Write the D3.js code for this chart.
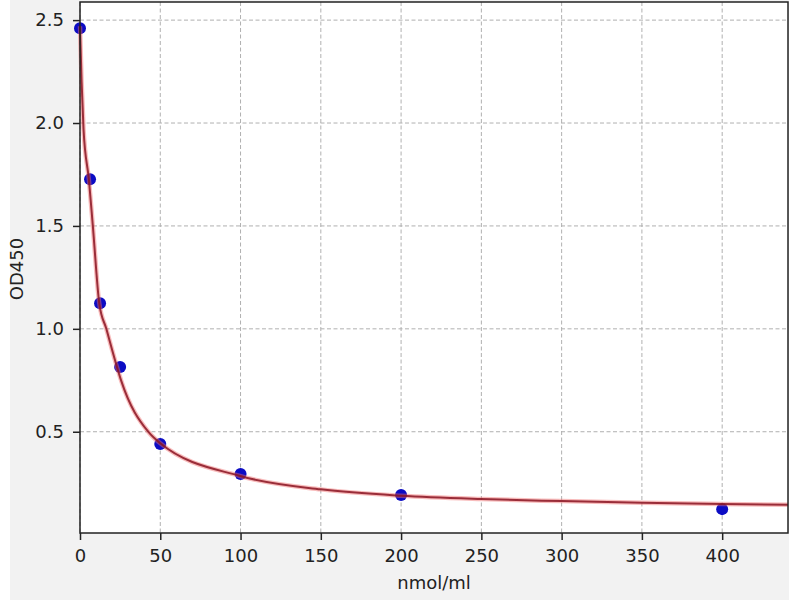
<!DOCTYPE html>
<html>
<head>
<meta charset="utf-8">
<script src="https://cdn.jsdelivr.net/npm/d3@7"></script>
<style>
  body { margin: 0; background: #fff; }
  text { font-family: "DejaVu Sans", sans-serif; fill: #222; }
</style>
</head>
<body>
<div id="canvas"></div>
<script>
// standard points
const conc = [0, 6.25, 12.5, 25, 50, 100, 200, 400];
const od = [2.46, 1.727, 1.124, 0.815, 0.44, 0.295, 0.193, 0.124];

// fitted curve
const curveX = [0, 1.0, 2.2, 5.6, 8.1, 12.0, 16.4, 23.2, 25.7, 42.5, 49.8, 99.7, 150, 200, 250, 300, 350, 400, 441];
const curveY = [2.47, 2.2, 1.97, 1.72, 1.49, 1.124, 1.0, 0.81, 0.747, 0.5, 0.445, 0.285, 0.22, 0.189, 0.173, 0.163, 0.155, 0.149, 0.145];

const xTicks = [0, 50, 100, 150, 200, 250, 300, 350, 400];
const yTicks = [0.5, 1.0, 1.5, 2.0, 2.5];

const margin = {
    Top: 2,
    Right: 12,
    Bottom: 67,
    Left: 80
};
const width = 800 - margin.Left - margin.Right;
const height = 600 - margin.Top - margin.Bottom;

const svg = d3.select('#canvas').append("svg")
    .attr("width", 800)
    .attr("height", 600);

// figure background
svg.append("rect")
    .attr("x", 10)
    .attr("y", 0)
    .attr("width", 779)
    .attr("height", 600)
    .attr("fill", "#f2f2f2");

const g = svg.append("g")
    .attr("transform", `translate(${margin.Left}, ${margin.Top})`);

g.append("rect")
    .attr("width", width)
    .attr("height", height)
    .attr("fill", "#fff");

const x = d3.scaleLinear()
    .domain([0, 441])
    .range([0, width]);

const y = d3.scaleLinear()
    .domain([0.008, 2.588])
    .range([height, 0]);

// grid
g.append("g")
    .selectAll("line")
    .data(xTicks)
    .enter().append("line")
    .attr("x1", d => x(d))
    .attr("x2", d => x(d))
    .attr("y1", 0)
    .attr("y2", height)
    .attr("stroke", "#b0b0b0")
    .attr("stroke-width", 1)
    .attr("stroke-dasharray", "4,2.5");

g.append("g")
    .selectAll("line")
    .data(yTicks)
    .enter().append("line")
    .attr("x1", 0)
    .attr("x2", width)
    .attr("y1", d => y(d))
    .attr("y2", d => y(d))
    .attr("stroke", "#b0b0b0")
    .attr("stroke-width", 1)
    .attr("stroke-dasharray", "4,2.5");

// points
g.selectAll("circle")
    .data(conc)
    .enter().append("circle")
    .attr("cx", d => x(d))
    .attr("cy", (d, i) => y(od[i]))
    .attr("r", 6)
    .attr("fill", "#0c0cc4");

// curve
const line = d3.line()
    .x(d => x(d[0]))
    .y(d => y(d[1]))
    .curve(d3.curveMonotoneX);
const curveData = curveX.map((d, i) => [d, curveY[i]]);

g.append("path")
    .datum(curveData)
    .attr("d", line)
    .attr("fill", "none")
    .attr("stroke", "#f06a6a")
    .attr("stroke-opacity", 0.45)
    .attr("stroke-width", 4.5);

g.append("path")
    .datum(curveData)
    .attr("d", line)
    .attr("fill", "none")
    .attr("stroke", "#8a1422")
    .attr("stroke-opacity", 0.85)
    .attr("stroke-width", 2);

// axes
const xAxisCall = d3.axisBottom(x)
    .tickValues(xTicks)
    .tickSize(7)
    .tickPadding(9)
    .tickFormat(d3.format("d"));
const xAxis = g.append("g")
    .attr("class", "x axis")
    .attr("transform", `translate(0, ${height})`)
    .call(xAxisCall);

const yAxisCall = d3.axisLeft(y)
    .tickValues(yTicks)
    .tickSize(7)
    .tickPadding(9)
    .tickFormat(d3.format(".1f"));
const yAxis = g.append("g")
    .attr("class", "y axis")
    .call(yAxisCall);

[xAxis, yAxis].forEach(a => {
    a.select(".domain").remove();
    a.selectAll("line").attr("stroke", "#222").attr("stroke-width", 1.5);
    a.selectAll("text").style("font-size", "18px").attr("fill", "#222");
});

// frame
g.append("rect")
    .attr("width", width)
    .attr("height", height)
    .attr("fill", "none")
    .attr("stroke", "#222")
    .attr("stroke-width", 1.5);

// labels
svg.append("text")
    .attr("x", margin.Left + width / 2)
    .attr("y", 589)
    .attr("text-anchor", "middle")
    .style("font-size", "18px")
    .text("nmol/ml");

svg.append("text")
    .attr("transform", "translate(23, 269) rotate(-90)")
    .attr("text-anchor", "middle")
    .style("font-size", "18px")
    .text("OD450");
</script>
</body>
</html>
